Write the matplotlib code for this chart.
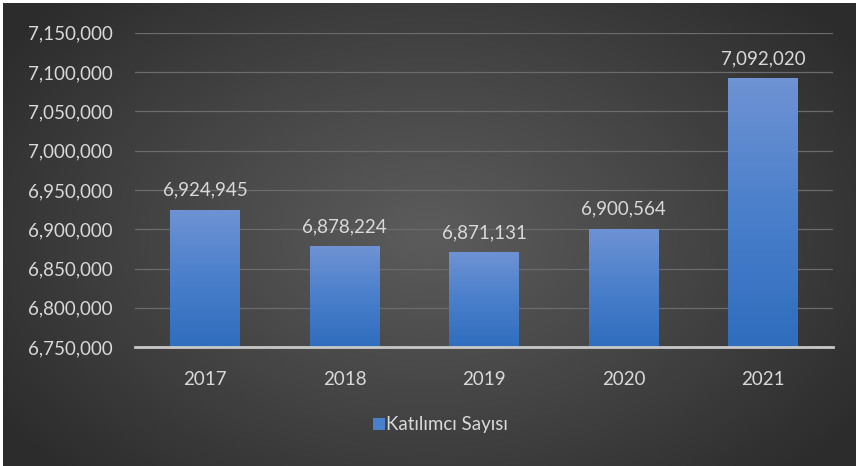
import numpy as np
import matplotlib
matplotlib.use('Agg')
import matplotlib.pyplot as plt
from matplotlib.patches import Patch
from matplotlib.ticker import FuncFormatter

years = ['2017', '2018', '2019', '2020', '2021']
participants = [6924945, 6878224, 6871131, 6900564, 7092020]
series_name = 'Katılımcı Sayısı'

plt.rcParams['font.family'] = ['Lato', 'DejaVu Sans']
txt = '#d9d9d9'
fs = 13.5

fig = plt.figure(figsize=(8.56, 4.66), dpi=100)
fig.patch.set_facecolor('white')

# radial gradient background
bg = fig.add_axes([0.004, 0.0, 0.996, 0.994])
bg.set_axis_off()
yy, xx = np.mgrid[-1:1:300j, -1:1:500j]
r = np.sqrt((xx * 0.9) ** 2 + (yy * 0.75) ** 2)
bg.imshow(r, cmap=matplotlib.colors.LinearSegmentedColormap.from_list(
    'bg', ['#5c5c5c', '#454545', '#2c2c2c']), aspect='auto',
    extent=[0, 1, 0, 1], vmin=0, vmax=1.1)

ax = fig.add_axes([0.158, 0.255, 0.815, 0.675])
ax.set_facecolor('none')
x = np.arange(len(years))
bars = ax.bar(x, participants, width=0.5, color='#4a7cc8', zorder=2)

ymin, ymax = 6750000, 7150000
ax.set_ylim(ymin, ymax)
ax.set_xlim(-0.5, len(years) - 0.5)

# vertical gradient on each bar
grad = np.linspace(0, 1, 256).reshape(-1, 1)
bar_cmap = matplotlib.colors.LinearSegmentedColormap.from_list(
    'bar', ['#2f6dbd', '#4a7fcb', '#6f93d4'])
for b in bars:
    b.set_alpha(0)
    x0, w, h = b.get_x(), b.get_width(), b.get_height()
    im = ax.imshow(grad, cmap=bar_cmap, origin='lower', aspect='auto',
                   extent=[x0, x0 + w, ymin, h], zorder=2)
    b2 = ax.bar(b.get_x() + w / 2, h, width=w, color='none', zorder=2)
    im.set_clip_path(b2[0])

for xi, v in zip(x, participants):
    ax.text(xi, v + 14000, f'{v:,}', ha='center', va='bottom',
            color=txt, fontsize=fs)

ax.set_yticks(np.arange(ymin, ymax + 1, 50000))
ax.yaxis.set_major_formatter(FuncFormatter(lambda v, p: f'{int(v):,}'))
ax.set_xticks(x)
ax.set_xticklabels(years)
ax.tick_params(axis='both', length=0, colors=txt, labelsize=fs)
ax.tick_params(axis='y', pad=16)
ax.tick_params(axis='x', pad=17)
ax.grid(axis='y', color='#6b6b6b', linewidth=0.9, zorder=0)
for s in ['top', 'right', 'left']:
    ax.spines[s].set_visible(False)
ax.spines['bottom'].set_color('#c8c8c8')
ax.spines['bottom'].set_linewidth(2)
ax.spines['bottom'].set_zorder(3)

fig.legend(handles=[Patch(facecolor='#4a7fcb', label=series_name)],
           loc='center', bbox_to_anchor=(0.515, 0.088), frameon=False,
           fontsize=fs, labelcolor=txt, handlelength=0.6, handleheight=0.6,
           handletextpad=0.1)

plt.savefig('out.png', dpi=100, facecolor=fig.get_facecolor())
